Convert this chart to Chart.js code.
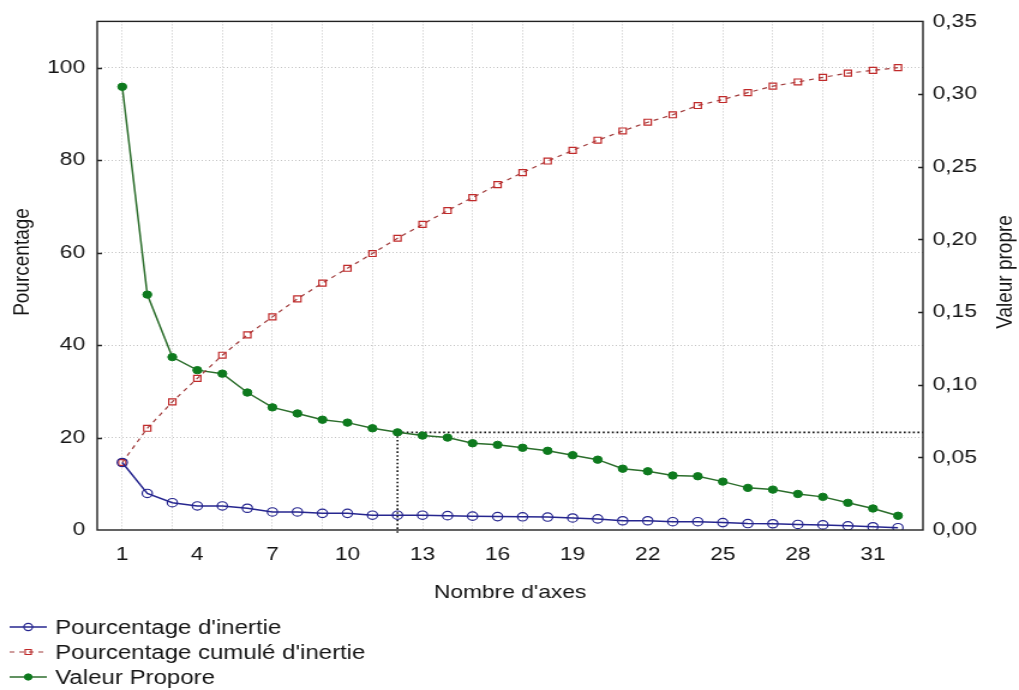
<!DOCTYPE html>
<html lang="fr">
<head>
<meta charset="utf-8">
<title>Valeurs propres</title>
<script src="https://cdn.jsdelivr.net/npm/chart.js@4.4.1/dist/chart.umd.min.js"></script>
<style>
    html, body { margin: 0; padding: 0; background: #fff; }
</style>
</head>
<body>
<!-- the source picture is stretched sideways, so the canvas is drawn narrower and scaled up -->
<canvas id="screeChart" width="849" height="690" style="width:1019px;height:690px;display:block"></canvas>
<script>
const axes = [1, 2, 3, 4, 5, 6, 7, 8, 9, 10, 11, 12, 13, 14, 15, 16,
              17, 18, 19, 20, 21, 22, 23, 24, 25, 26, 27, 28, 29, 30, 31, 32];

const pourcentageInertie = [14.6, 7.9, 5.9, 5.2, 5.2, 4.7, 3.9, 3.9, 3.6, 3.6, 3.2, 3.2,
                            3.2, 3.1, 3.0, 2.9, 2.85, 2.8, 2.6, 2.4, 2.0, 2.0, 1.8, 1.8,
                            1.6, 1.4, 1.35, 1.2, 1.1, 0.9, 0.7, 0.5];

const pourcentageCumule = [14.6, 22.0, 27.7, 32.8, 37.8, 42.2, 46.1, 50.0, 53.4, 56.6, 59.8, 63.1,
                           66.1, 69.1, 71.9, 74.7, 77.3, 79.8, 82.1, 84.3, 86.3, 88.2, 89.8, 91.8,
                           93.1, 94.6, 96.0, 96.9, 97.9, 98.8, 99.4, 100.0];

const valeurPropre = [0.305, 0.162, 0.119, 0.110, 0.1076, 0.0946, 0.0844, 0.0802, 0.0759, 0.0739, 0.070, 0.0672,
                      0.065, 0.0636, 0.0597, 0.0586, 0.0566, 0.0545, 0.0515, 0.0484, 0.0422, 0.0404, 0.0375, 0.037,
                      0.0333, 0.029, 0.0278, 0.0248, 0.0228, 0.0187, 0.0148, 0.0098];

const xTickLabels = [1, 4, 7, 10, 13, 16, 19, 22, 25, 28, 31];
const yLeftTicks = [0, 20, 40, 60, 80, 100];
const yRightTicks = [0, 0.05, 0.10, 0.15, 0.20, 0.25, 0.30, 0.35];

const seriesNames = ["Pourcentage d'inertie", "Pourcentage cumulé d'inertie", 'Valeur Propore'];
const axisTitles = { x: "Nombre d'axes", left: 'Pourcentage', right: 'Valeur propre' };
const axeSeuil = 12;

const FONT = '"Liberation Sans", Arial, sans-serif';
const TEXT_COLOR = '#151515';
const GRID_COLOR = '#c4c4c4';


document.addEventListener('DOMContentLoaded', function () {
    Chart.defaults.font.family = FONT;
    Chart.defaults.color = TEXT_COLOR;
    buildScreeChart();
});


// dotted guide lines, frame, inner tick marks, titles and legend
const screeDecor = {
    id: 'screeDecor',
    beforeDatasetsDraw(chart) {
        const { ctx, chartArea, scales } = chart;
        const i = axes.indexOf(axeSeuil);
        const px = scales.x.getPixelForValue(axeSeuil);
        const py = scales.y2.getPixelForValue(valeurPropre[i]);

        ctx.save();
        ctx.strokeStyle = '#111';
        ctx.lineWidth = 1.6;
        ctx.setLineDash([1.6, 2.2]);
        ctx.beginPath();
        ctx.moveTo(px, py);
        ctx.lineTo(chartArea.right, py);
        ctx.moveTo(px, py);
        ctx.lineTo(px, chartArea.bottom + 4);
        ctx.stroke();
        ctx.restore();
    },
    afterDraw(chart) {
        const { ctx, chartArea, scales } = chart;
        const { left, right, top, bottom } = chartArea;

        ctx.save();
        ctx.strokeStyle = '#222';
        ctx.lineWidth = 1.4;
        ctx.strokeRect(left, top, right - left, bottom - top);

        // short ticks pointing into the plot
        ctx.beginPath();
        yLeftTicks.slice(1).forEach(v => {
            const py = Math.round(scales.y.getPixelForValue(v)) + 0.5;
            ctx.moveTo(left, py);
            ctx.lineTo(left + 4, py);
        });
        yRightTicks.slice(1, -1).forEach(v => {
            const py = Math.round(scales.y2.getPixelForValue(v)) + 0.5;
            ctx.moveTo(right, py);
            ctx.lineTo(right - 4, py);
        });
        ctx.stroke();

        // axis titles
        ctx.fillStyle = TEXT_COLOR;
        ctx.font = '19px ' + FONT;
        ctx.textAlign = 'center';
        ctx.textBaseline = 'middle';
        ctx.fillText(axisTitles.x, (left + right) / 2, 593);

        ctx.save();
        ctx.translate(18.5, 262);
        ctx.rotate(-Math.PI / 2);
        ctx.fillText(axisTitles.left, 0, 0);
        ctx.restore();

        ctx.save();
        ctx.translate(837.5, 272);
        ctx.rotate(-Math.PI / 2);
        ctx.fillText(axisTitles.right, 0, 0);
        ctx.restore();

        // legend
        const rows = [627, 652, 677];
        ctx.font = '20px ' + FONT;
        ctx.textAlign = 'left';
        chart.data.datasets.forEach((ds, k) => {
            const y = rows[k];
            ctx.strokeStyle = ds.borderColor;
            ctx.lineWidth = ds.borderWidth;
            ctx.setLineDash(ds.borderDash || []);
            ctx.beginPath();
            ctx.moveTo(8, y);
            ctx.lineTo(39, y);
            ctx.stroke();
            ctx.setLineDash([]);

            ctx.fillStyle = ds.pointBackgroundColor;
            ctx.strokeStyle = ds.pointBorderColor;
            ctx.lineWidth = ds.pointBorderWidth;
            Chart.helpers.drawPoint(ctx, {
                pointStyle: ds.pointStyle,
                radius: ds.pointRadius * 0.85,
                borderWidth: ds.pointBorderWidth,
                rotation: 0
            }, 23.5, y);

            ctx.fillStyle = TEXT_COLOR;
            ctx.fillText(ds.label, 46, y + 1);
        });
        ctx.restore();
    }
};


function buildScreeChart() {
    const ctx = document.getElementById('screeChart').getContext('2d');

    window.screeChartInstance = new Chart(ctx, {
        type: 'line',
        data: {
            datasets: [{
                label: seriesNames[0],
                data: axes.map((a, i) => ({ x: a, y: pourcentageInertie[i] })),
                yAxisID: 'y',
                borderColor: '#26268f',
                borderWidth: 1.5,
                pointStyle: 'circle',
                pointRadius: 4.2,
                pointBorderWidth: 1.2,
                pointBackgroundColor: 'rgba(255,255,255,0)',
                pointBorderColor: '#26268f'
            }, {
                label: seriesNames[1],
                data: axes.map((a, i) => ({ x: a, y: pourcentageCumule[i] })),
                yAxisID: 'y',
                borderColor: '#a03c3c',
                borderWidth: 1.2,
                borderDash: [4, 4],
                pointStyle: 'rect',
                pointRadius: 4.2,
                pointBorderWidth: 1.2,
                pointBackgroundColor: 'rgba(255,255,255,0)',
                pointBorderColor: '#c02a2a'
            }, {
                label: seriesNames[2],
                data: axes.map((a, i) => ({ x: a, y: valeurPropre[i] })),
                yAxisID: 'y2',
                borderColor: '#2c6e2c',
                borderWidth: 1.5,
                pointStyle: 'circle',
                pointRadius: 3.7,
                pointBorderWidth: 1,
                pointBackgroundColor: '#0e7a1e',
                pointBorderColor: '#0e7a1e'
            }]
        },
        options: {
            responsive: false,
            devicePixelRatio: 1,
            animation: false,
            layout: { padding: { top: 18, left: 0, right: 0, bottom: 0 } },
            plugins: {
                legend: { display: false },
                tooltip: { enabled: false }
            },
            scales: {
                x: {
                    type: 'linear',
                    min: 0,
                    max: 33,
                    afterBuildTicks: scale => { scale.ticks = axes.map(v => ({ value: v })); },
                    afterFit: scale => { scale.height = 160; },
                    ticks: {
                        autoSkip: false,
                        maxRotation: 0,
                        padding: 13,
                        font: { size: 19 },
                        callback: value => xTickLabels.includes(value) ? String(value) : ''
                    },
                    grid: {
                        drawTicks: false,
                        lineWidth: 1,
                        color: c => (c.tick && c.tick.value % 2 === 1) ? GRID_COLOR : 'rgba(0,0,0,0)'
                    },
                    border: { display: false, dash: [1, 2] }
                },
                y: {
                    position: 'left',
                    min: 0,
                    max: 110,
                    afterBuildTicks: scale => { scale.ticks = yLeftTicks.map(v => ({ value: v })); },
                    afterFit: scale => { scale.width = 81; },
                    ticks: {
                        padding: 10,
                        font: { size: 19 },
                        callback: value => String(value)
                    },
                    grid: {
                        drawTicks: false,
                        lineWidth: 1,
                        color: c => (c.tick && c.tick.value > 0) ? GRID_COLOR : 'rgba(0,0,0,0)'
                    },
                    border: { display: false, dash: [1, 2] }
                },
                y2: {
                    position: 'right',
                    min: 0,
                    max: 0.35,
                    afterBuildTicks: scale => { scale.ticks = yRightTicks.map(v => ({ value: v })); },
                    afterFit: scale => { scale.width = 80; },
                    ticks: {
                        padding: 8,
                        font: { size: 19 },
                        callback: value => value.toFixed(2).replace('.', ',')
                    },
                    grid: { display: false, drawTicks: false },
                    border: { display: false }
                }
            }
        },
        plugins: [screeDecor]
    });
}
</script>
</body>
</html>
